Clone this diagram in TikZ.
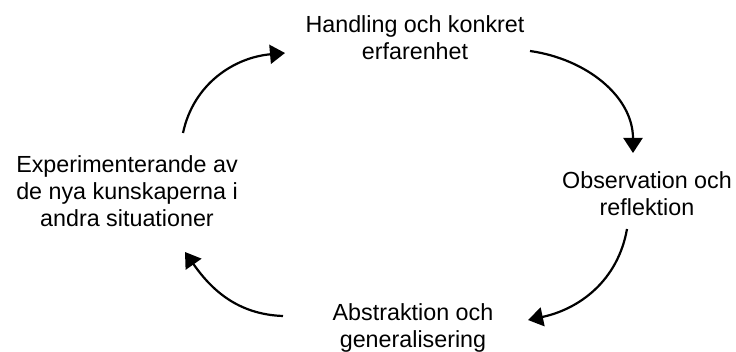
\documentclass[tikz,border=0pt]{standalone}
\usepackage{fontspec}
\setmainfont{Liberation Sans}
\usetikzlibrary{arrows.meta}
\tikzset{
  lbl/.style={align=center, inner sep=0pt, anchor=north, font=\fontsize{23.3}{27}\selectfont},
  cyc/.style={line width=2.2pt, -{Triangle[length=15pt, width=19pt]}}
}
\begin{document}
\begin{tikzpicture}[x=1pt,y=1pt]
\useasboundingbox (0,0) rectangle (736,351);
\node[lbl] (top) at (415,335.8) {Handling och konkret\\erfarenhet};
\node[lbl] (left) at (127,195.8) {Experimenterande av\\de nya kunskaperna i\\andra situationer};
\node[lbl] (right) at (647,179.8) {Observation och\\reflektion};
\node[lbl] (bottom) at (413,47.8) {Abstraktion och\\generalisering};
\coordinate (a1s) at (183,218);
\coordinate (a1e) at (285,298);
\coordinate (a2s) at (530,300);
\coordinate (a2e) at (633,198);
\coordinate (a3s) at (627,122);
\coordinate (a3e) at (528,31);
\coordinate (a4s) at (283,35);
\coordinate (a4e) at (185,99);
\draw[cyc] (a1s) to[out=78, in=185] (a1e);
\draw[cyc] (a2s) to[out=-8, in=90] (a2e);
\draw[cyc] (a3s) to[out=-100, in=12] (a3e);
\draw[cyc] (a4s) to[out=178, in=-55] (a4e);
\end{tikzpicture}
\end{document}
